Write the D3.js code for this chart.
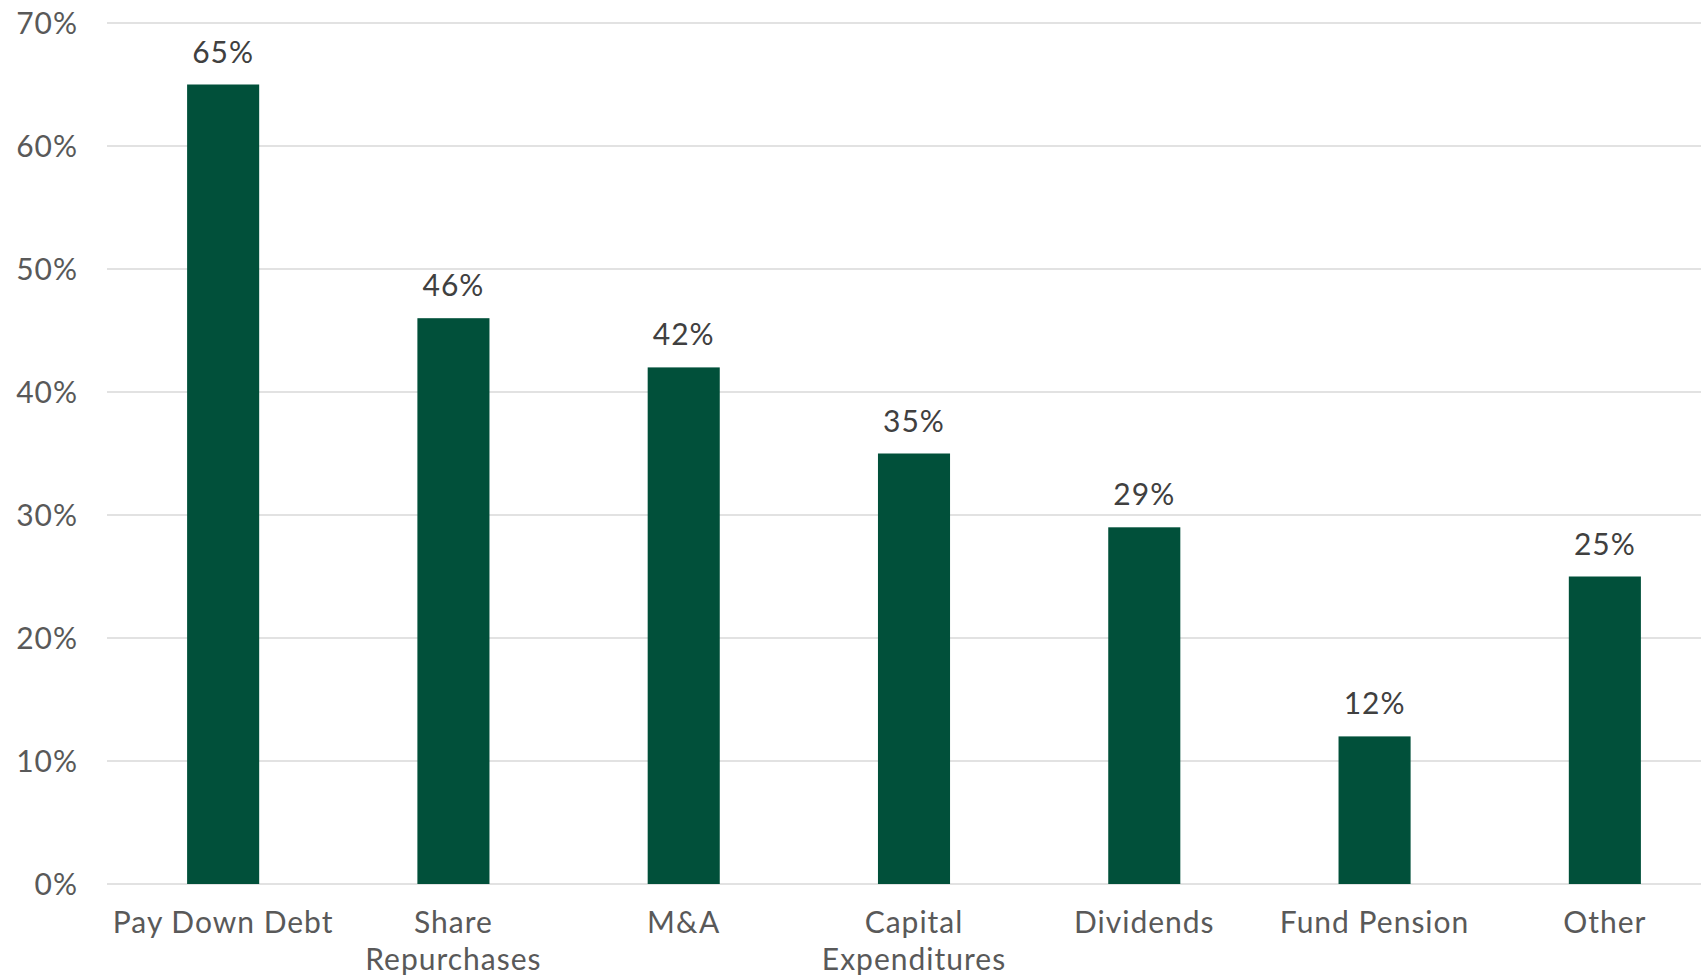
<!DOCTYPE html>
<html><head><meta charset="utf-8">
<script src="https://cdn.jsdelivr.net/npm/d3@7"></script>
<style>html,body{margin:0;padding:0;background:#fff;overflow:hidden}</style>
</head><body><svg id="chart" width="1701" height="980"></svg>
<script>
const categories = [["Pay Down Debt"],["Share","Repurchases"],["M&A"],["Capital","Expenditures"],["Dividends"],["Fund Pension"],["Other"]];
const values = [65,46,42,35,29,12,25];
const yTicks = [0,10,20,30,40,50,60,70];

const svg = d3.select("#chart");
const font = "Lato, 'Open Sans', sans-serif";
const x = d3.scaleBand().domain(d3.range(categories.length)).range([108,1720]).paddingInner(0.687).paddingOuter(0.3435);
const y = d3.scaleLinear().domain([0,70]).range([884,23]);

// gridlines
svg.append("g").selectAll("line").data(yTicks).join("line")
  .attr("x1",107).attr("x2",1701)
  .attr("y1",d=>y(d)).attr("y2",d=>y(d))
  .attr("stroke","#d9d9d9").attr("stroke-width",1.5);

// y axis labels
svg.append("g").selectAll("text").data(yTicks).join("text")
  .attr("x",78).attr("y",d=>y(d)).attr("dy","0.35em")
  .attr("text-anchor","end").attr("font-family",font).attr("font-size",30)
  .attr("letter-spacing","1px")
  .attr("fill","#595959").text(d=>d+"%");

// bars
svg.append("g").selectAll("rect").data(values).join("rect")
  .attr("x",(d,i)=>x(i)).attr("width",x.bandwidth())
  .attr("y",d=>y(d)).attr("height",d=>y(0)-y(d))
  .attr("fill","#01503a");

// value labels
svg.append("g").selectAll("text").data(values).join("text")
  .attr("x",(d,i)=>x(i)+x.bandwidth()/2).attr("y",d=>y(d)-22)
  .attr("text-anchor","middle").attr("font-family",font).attr("font-size",30)
  .attr("letter-spacing","1px")
  .attr("fill","#404040").text(d=>d+"%");

// category labels
const cg = svg.append("g").selectAll("text").data(categories).join("text")
  .attr("x",(d,i)=>x(i)+x.bandwidth()/2).attr("y",933)
  .attr("text-anchor","middle").attr("font-family",font).attr("font-size",30)
  .attr("letter-spacing","1px")
  .attr("fill","#595959");
cg.selectAll("tspan").data(d=>d).join("tspan")
  .attr("x",function(){return d3.select(this.parentNode).attr("x");})
  .attr("dy",(d,i)=>i===0?0:37).text(d=>d);
</script></body></html>
